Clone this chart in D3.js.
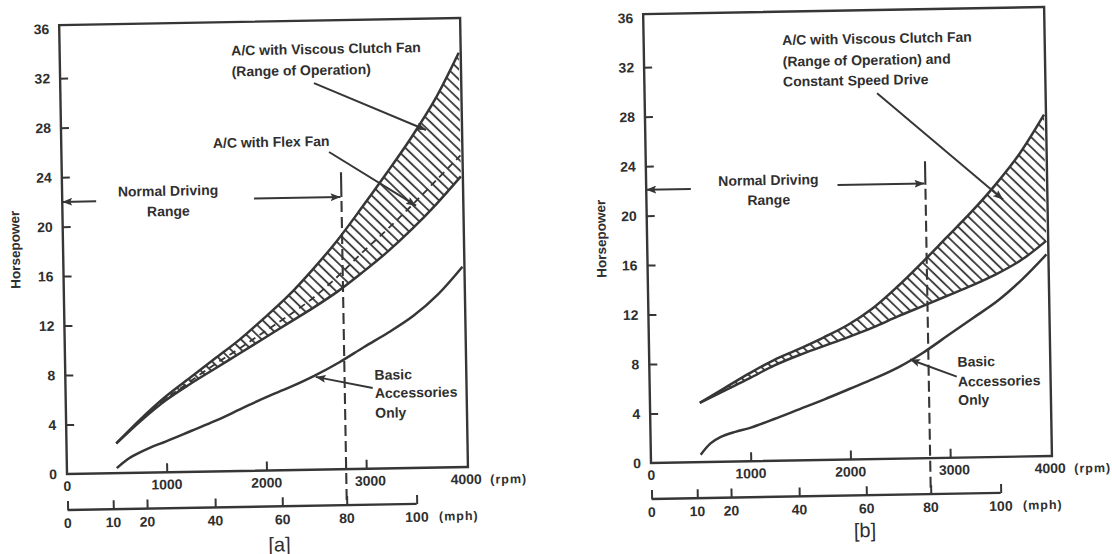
<!DOCTYPE html>
<html>
<head>
<meta charset="utf-8">
<title>Accessory horsepower</title>
<style>
  body { margin: 0; background: #fff; }
  svg text { font-family: "Liberation Sans", Arial, sans-serif; fill: #2f2f2f; font-weight: bold; }
</style>
</head>
<body>
<div id="chart"></div>
<script src="https://cdnjs.cloudflare.com/ajax/libs/d3/7.8.5/d3.min.js"></script>
<script>
// engine speed grid (rpm) used by the band curves
var rpmGrid = [500, 750, 1000, 1250, 1500, 1750, 2000, 2250, 2500, 2750, 3000, 3250, 3500, 3750, 4000];
// basic accessories curves are read on a finer grid at low rpm
var basicRpm = [500, 600, 700, 850, 1000, 1250, 1500, 1750, 2000, 2250, 2500, 2750, 3000, 3250, 3500, 3750, 4000];

// panel [a]
var aViscousUpper = [2.4, 4.35, 6.1, 7.6, 9.1, 10.6, 12.3, 14.1, 16.2, 18.5, 21.1, 23.8, 26.6, 29.7, 33.5];
var aViscousLower = [2.4, 4.2, 5.8, 7.1, 8.3, 9.5, 10.7, 11.9, 13.1, 14.4, 15.9, 17.5, 19.3, 21.3, 23.5];
var aFlexFan = [2.4, 4.25, 5.9, 7.3, 8.65, 9.9, 11.2, 12.5, 13.9, 15.6, 17.5, 19.3, 21.2, 23.2, 25.2];
var aBasic = [0.4, 1.05, 1.5, 2.05, 2.5, 3.3, 4.1, 5.0, 5.9, 6.7, 7.6, 8.65, 9.85, 11.0, 12.3, 14.0, 16.2];

// panel [b]
var bViscousUpper = [4.8, 5.95, 7.1, 8.15, 9.0, 9.9, 10.9, 12.2, 13.9, 15.8, 17.8, 19.8, 22.0, 24.5, 27.6];
var bViscousLower = [4.8, 5.75, 6.7, 7.7, 8.5, 9.2, 9.9, 10.65, 11.5, 12.3, 13.1, 13.9, 14.8, 15.9, 17.4];
var bBasic = [0.6, 1.5, 2.0, 2.4, 2.7, 3.4, 4.15, 4.9, 5.7, 6.5, 7.4, 8.55, 9.9, 11.25, 12.6, 14.3, 16.3];

// axes
var rpmTickValues = [1000, 2000, 3000];
var rpmTickLabels = ["0", "1000", "2000", "3000", "4000"];
var hpTickValues = [4, 8, 12, 16, 20, 24, 28, 32];
var hpTickLabels = ["0", "4", "8", "12", "16", "20", "24", "28", "32", "36"];
var mphTicks = [0, 10, 20, 40, 60, 80, 100];
var mphAtRpm = [0, 458, 797, 1480, 2153, 2799, 3500]; // where each mph mark sits on the rpm scale

// annotations: text, rpm, hp, anchor
var aNoteText = ["A/C with Viscous Clutch Fan", "(Range of Operation)", "A/C with Flex Fan", "Normal Driving", "Range", "Basic", "Accessories", "Only"];
var aNoteRpm = [1720, 1720, 1520, 1062, 1062, 3100, 3100, 3100];
var aNoteHp = [34.0, 32.3, 26.55, 22.75, 21.1, 7.57, 6.1, 4.5];
var aNoteAnchor = ["start", "start", "start", "middle", "middle", "start", "start", "start"];
var aArrowFrom = [[2544, 31.25], [2683, 25.66], [3079, 6.52], [340, 22.0], [1923, 22.0]];
var aArrowTo = [[3659, 27.3], [3546, 21.2], [2510, 7.5], [0, 22.0], [2790, 22.0]];

var bNoteText = ["A/C with Viscous Clutch Fan", "(Range of Operation) and", "Constant Speed Drive", "Normal Driving", "Range", "Basic", "Accessories", "Only"];
var bNoteRpm = [1390, 1390, 1390, 1226, 1226, 3090, 3090, 3090];
var bNoteHp = [34.0, 32.26, 30.64, 22.7, 21.1, 7.75, 6.14, 4.66];
var bNoteAnchor = ["start", "start", "start", "middle", "middle", "start", "start", "start"];
var bArrowFrom = [[2331, 29.57], [3080, 6.55], [447, 22.1], [1918, 22.2]];
var bArrowTo = [[3575, 20.8], [2614, 8.0], [0, 22.1], [2790, 22.2]];

var W = 1112, H = 554;
var pw = 401, ph = 449;
var ink = "#363636";

var x = d3.scaleLinear().domain([0, 4000]).range([0, 399]);
var y = d3.scaleLinear().domain([0, 36.3]).range([ph, 0]);
var mphScale = d3.scaleLinear().domain(mphTicks).range(mphAtRpm);

var svg = d3.select("#chart").append("svg")
  .attr("width", W)
  .attr("height", H);

var defs = svg.append("defs");
defs.append("pattern")
  .attr("id", "hatch")
  .attr("patternUnits", "userSpaceOnUse")
  .attr("width", 7.2)
  .attr("height", 7.2)
  .attr("patternTransform", "rotate(-45)")
  .append("line")
  .attr("x1", 1).attr("y1", 0).attr("x2", 1).attr("y2", 7.2)
  .attr("stroke", ink)
  .attr("stroke-width", 1.8);

defs.append("marker")
  .attr("id", "arrow")
  .attr("viewBox", "0 0 10 8")
  .attr("refX", 10)
  .attr("refY", 4)
  .attr("markerWidth", 10)
  .attr("markerHeight", 8)
  .attr("markerUnits", "userSpaceOnUse")
  .attr("orient", "auto")
  .append("path")
  .attr("d", "M0,0L10,4L0,8L2,4z")
  .attr("fill", ink);

function pts(rpms, hps) {
  return rpms.map(function (r, i) { return [r, hps[i]]; });
}

var curve = d3.curveCatmullRom.alpha(0.5);

var line = d3.line()
  .x(function (d) { return x(d[0]); })
  .y(function (d) { return y(d[1]); })
  .curve(curve);

var band = d3.area()
  .x(function (d) { return x(d[0]); })
  .y0(function (d) { return y(d[1]); })
  .y1(function (d) { return y(d[2]); })
  .curve(curve);

function drawPanel(p) {
  // the scan is tilted by about one degree, pivot at the bottom-left corner
  var g = svg.append("g")
    .attr("transform", "translate(" + p.ox + "," + p.oy + ") rotate(-1) translate(0," + (-ph) + ")");

  // hatched operating range of the viscous clutch fan
  var bandData = rpmGrid.map(function (r, i) { return [r, p.lower[i], p.upper[i]]; });
  g.append("path")
    .attr("d", band(bandData))
    .attr("fill", "url(#hatch)");

  g.append("path").attr("d", line(pts(rpmGrid, p.upper)))
    .attr("fill", "none").attr("stroke", ink).attr("stroke-width", 2.5);
  g.append("path").attr("d", line(pts(rpmGrid, p.lower)))
    .attr("fill", "none").attr("stroke", ink).attr("stroke-width", 2.5);
  if (p.flex) {
    g.append("path").attr("d", line(pts(rpmGrid, p.flex)))
      .attr("fill", "none").attr("stroke", ink).attr("stroke-width", 1.8)
      .attr("stroke-dasharray", "7,5");
  }
  g.append("path").attr("d", line(pts(basicRpm, p.basic)))
    .attr("fill", "none").attr("stroke", ink).attr("stroke-width", 2.5);

  // frame
  g.append("rect")
    .attr("x", 0).attr("y", 0).attr("width", pw).attr("height", ph)
    .attr("fill", "none").attr("stroke", ink).attr("stroke-width", 2.4);

  // horsepower axis: inward ticks, labels to the left
  var yAxis = d3.axisRight(y).tickValues(hpTickValues).tickSize(8).tickFormat("");
  var ya = g.append("g").call(yAxis);
  ya.select(".domain").remove();
  ya.selectAll("line").attr("stroke", ink).attr("stroke-width", 2);

  g.append("g").selectAll("text")
    .data(hpTickLabels)
    .enter().append("text")
    .attr("x", -10)
    .attr("y", function (d) { return y(+d); })
    .attr("dy", "0.36em")
    .attr("text-anchor", "end")
    .style("font-size", "14px")
    .text(function (d) { return d; });

  g.append("text")
    .attr("transform", "translate(" + p.titleX + "," + y(18.2) + ") rotate(-90)")
    .attr("text-anchor", "middle")
    .attr("dy", "0.35em")
    .style("font-size", "13.5px")
    .text("Horsepower");

  // rpm axis: ticks pointing up into the plot
  var xAxis = d3.axisTop(x).tickValues(rpmTickValues).tickSize(9).tickFormat("");
  var xa = g.append("g").attr("transform", "translate(0," + ph + ")").call(xAxis);
  xa.select(".domain").remove();
  xa.selectAll("line").attr("stroke", ink).attr("stroke-width", 2);

  g.append("g").selectAll("text")
    .data(rpmTickLabels)
    .enter().append("text")
    .attr("x", function (d) { return x(+d) + (d === "3000" ? 4 : 0); })
    .attr("y", ph + 17)
    .attr("text-anchor", "middle")
    .style("font-size", "14px")
    .text(function (d) { return d; });
  g.append("text")
    .attr("x", x(4000) + 24)
    .attr("y", ph + 17)
    .style("font-size", "12.5px")
    .style("letter-spacing", "1px")
    .text("(rpm)");

  // road speed scale underneath
  var mphY = ph + 36;
  var mphAxis = d3.axisTop(d3.scaleLinear().domain([0, 4000]).range([0, 399]))
    .tickValues(mphTicks.map(function (m) { return mphScale(m); }))
    .tickSize(9)
    .tickSizeOuter(0)
    .tickFormat("");
  var ma = g.append("g").attr("transform", "translate(0," + mphY + ")").call(mphAxis);
  ma.select(".domain").remove();
  ma.selectAll("line").attr("stroke", ink).attr("stroke-width", 2);
  g.append("line")
    .attr("x1", x(0)).attr("x2", x(mphScale(100)))
    .attr("y1", mphY).attr("y2", mphY)
    .attr("stroke", ink).attr("stroke-width", 2.4);

  g.append("g").selectAll("text")
    .data(mphTicks)
    .enter().append("text")
    .attr("x", function (m) { return x(mphScale(m)); })
    .attr("y", mphY + 18)
    .attr("text-anchor", "middle")
    .style("font-size", "14px")
    .text(function (m) { return m; });
  g.append("text")
    .attr("x", x(mphScale(100)) + 22)
    .attr("y", mphY + 17)
    .style("font-size", "12.5px")
    .style("letter-spacing", "1px")
    .text("(mph)");

  // end of the normal driving range at 80 mph
  var xEnd = x(mphScale(80));
  g.append("line")
    .attr("x1", xEnd).attr("x2", xEnd)
    .attr("y1", y(24)).attr("y2", y(p.arrowHp))
    .attr("stroke", ink).attr("stroke-width", 2.1);
  g.append("line")
    .attr("x1", xEnd).attr("x2", xEnd)
    .attr("y1", y(p.arrowHp) + 4).attr("y2", mphY)
    .attr("stroke", ink).attr("stroke-width", 2.1)
    .attr("stroke-dasharray", "11,5");

  // annotation arrows
  g.append("g").selectAll("line")
    .data(p.arrowFrom)
    .enter().append("line")
    .attr("x1", function (d) { return x(d[0]); })
    .attr("y1", function (d) { return y(d[1]); })
    .attr("x2", function (d, i) { return x(p.arrowTo[i][0]); })
    .attr("y2", function (d, i) { return y(p.arrowTo[i][1]); })
    .attr("stroke", ink)
    .attr("stroke-width", 2)
    .attr("marker-end", "url(#arrow)");

  g.append("g").selectAll("text")
    .data(p.noteText)
    .enter().append("text")
    .attr("x", function (d, i) { return x(p.noteRpm[i]); })
    .attr("y", function (d, i) { return y(p.noteHp[i]); })
    .attr("dy", "0.35em")
    .attr("text-anchor", function (d, i) { return p.noteAnchor[i]; })
    .style("font-size", "14px")
    .text(function (d) { return d; });

  g.append("text")
    .attr("x", x(p.tagRpm))
    .attr("y", ph + p.tagDy)
    .attr("text-anchor", "middle")
    .style("font-weight", "normal")
    .style("font-size", "20px")
    .text(p.tag);
}

drawPanel({
  ox: 67, oy: 474,
  upper: aViscousUpper, lower: aViscousLower, flex: aFlexFan, basic: aBasic,
  noteText: aNoteText, noteRpm: aNoteRpm, noteHp: aNoteHp, noteAnchor: aNoteAnchor,
  arrowFrom: aArrowFrom, arrowTo: aArrowTo, arrowHp: 22.0,
  titleX: -48, tag: "[a]", tagRpm: 2118, tagDy: 81
});

drawPanel({
  ox: 651, oy: 463,
  upper: bViscousUpper, lower: bViscousLower, flex: null, basic: bBasic,
  noteText: bNoteText, noteRpm: bNoteRpm, noteHp: bNoteHp, noteAnchor: bNoteAnchor,
  arrowFrom: bArrowFrom, arrowTo: bArrowTo, arrowHp: 22.1,
  titleX: -46, tag: "[b]", tagRpm: 2133, tagDy: 78
});
</script>
</body>
</html>
